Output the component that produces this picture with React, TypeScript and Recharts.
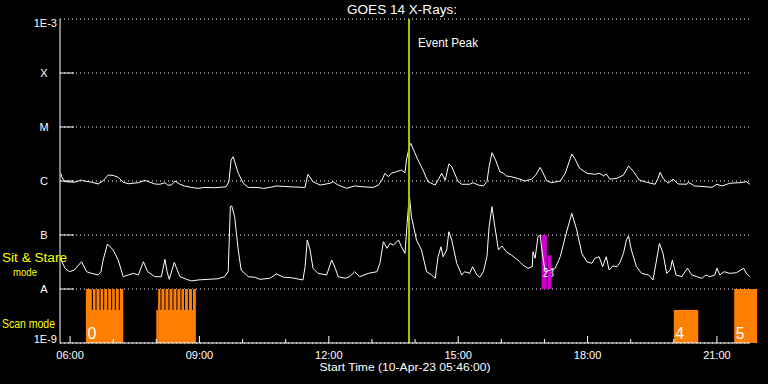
import React from 'react';
import { ComposedChart, Line, XAxis, YAxis, CartesianGrid, ReferenceArea, ReferenceLine } from 'recharts';

// times are minutes after the start time (10-Apr-23 05:46:00)
const START = 5 * 60 + 46;
const SPAN = 960;

const hourTicks = [14, 74, 134, 194, 254, 314, 374, 434, 494, 554, 614, 674, 734, 794, 854, 914];
const yTicks = [1e-9, 1e-8, 1e-7, 1e-6, 1e-5, 1e-4, 1e-3];
const yLabels = ['1E-9', 'A', 'B', 'C', 'M', 'X', '1E-3'];

// long channel (1-8 A), W/m^2
const longChannel: [number, number][] = [
  [1, 1.39e-6], [3, 1.14e-6], [7, 0.97e-6], [20, 0.95e-6], [30, 1.04e-6], [34, 1.0e-6], [44, 0.95e-6],
  [53, 0.88e-6], [60, 1.01e-6], [67, 1.29e-6], [74, 1.27e-6], [81, 1.17e-6], [88, 0.95e-6], [95, 0.89e-6],
  [109, 0.93e-6], [118, 1.03e-6], [125, 0.95e-6], [132, 0.88e-6], [139, 0.87e-6], [146, 0.93e-6], [150, 0.84e-6],
  [155, 0.84e-6], [160, 1.0e-6], [167, 0.87e-6], [173, 0.81e-6], [183, 0.76e-6], [192, 0.73e-6], [201, 0.76e-6],
  [215, 0.75e-6], [231, 0.78e-6], [235, 0.97e-6], [238, 2.45e-6], [241, 2.82e-6], [243, 2.28e-6], [248, 1.39e-6],
  [255, 0.91e-6], [262, 0.76e-6], [275, 0.76e-6], [283, 0.73e-6], [292, 0.76e-6], [301, 0.81e-6], [320, 0.78e-6],
  [341, 0.76e-6], [343, 1.04e-6], [345, 1.33e-6], [352, 0.97e-6], [362, 0.84e-6], [376, 0.91e-6], [380, 0.97e-6],
  [387, 0.84e-6], [399, 0.73e-6], [410, 0.81e-6], [422, 0.78e-6], [436, 0.76e-6], [443, 0.84e-6], [448, 1.04e-6],
  [452, 1.39e-6], [457, 1.2e-6], [461, 1.39e-6], [468, 1.49e-6], [475, 1.6e-6], [480, 1.42e-6], [482, 2.45e-6],
  [486, 4.32e-6], [488, 4.99e-6], [492, 3.75e-6], [498, 2.45e-6], [505, 1.6e-6], [512, 0.97e-6], [522, 0.84e-6],
  [526, 1.04e-6], [531, 1.39e-6], [536, 1.04e-6], [541, 2.07e-6], [545, 1.84e-6], [554, 0.97e-6], [559, 0.87e-6],
  [570, 0.87e-6], [575, 0.93e-6], [582, 0.84e-6], [589, 0.81e-6], [594, 0.97e-6], [597, 1.84e-6], [601, 3.34e-6],
  [606, 2.45e-6], [612, 1.49e-6], [617, 1.39e-6], [621, 1.24e-6], [628, 1.2e-6], [640, 1.08e-6], [647, 1.0e-6],
  [656, 1.08e-6], [662, 1.29e-6], [668, 1.79e-6], [672, 1.42e-6], [677, 1.01e-6], [684, 0.93e-6], [696, 1.0e-6],
  [703, 1.39e-6], [712, 3.16e-6], [716, 2.63e-6], [723, 1.72e-6], [733, 1.39e-6], [744, 1.33e-6], [751, 1.39e-6],
  [756, 1.24e-6], [760, 1.35e-6], [765, 1.08e-6], [775, 1.12e-6], [784, 1.29e-6], [791, 1.9e-6], [798, 1.49e-6],
  [806, 1.04e-6], [816, 0.95e-6], [828, 0.87e-6], [832, 1.12e-6], [835, 1.45e-6], [839, 1.12e-6], [846, 0.91e-6],
  [853, 1.08e-6], [860, 0.88e-6], [872, 0.87e-6], [874, 0.95e-6], [883, 0.81e-6], [900, 0.78e-6], [907, 0.76e-6],
  [914, 0.87e-6], [921, 0.81e-6], [932, 0.91e-6], [946, 0.93e-6], [955, 0.97e-6], [960, 0.87e-6],
];

// short channel (0.5-4 A), W/m^2
const shortChannel: [number, number][] = [
  [1, 3.59e-8], [7, 2.42e-8], [13, 2.09e-8], [20, 2.25e-8], [30, 3.2e-8], [37, 2.09e-8], [44, 1.95e-8],
  [53, 1.82e-8], [57, 2.09e-8], [60, 3.44e-8], [66, 6.81e-8], [74, 5.27e-8], [81, 3.44e-8], [88, 1.69e-8],
  [95, 1.82e-8], [102, 1.95e-8], [109, 1.82e-8], [116, 3.2e-8], [122, 2.09e-8], [132, 1.69e-8], [141, 1.69e-8],
  [146, 3.55e-8], [149, 2.09e-8], [152, 1.51e-8], [159, 3.1e-8], [167, 1.69e-8], [176, 1.51e-8], [183, 1.41e-8],
  [192, 1.47e-8], [206, 1.51e-8], [220, 1.55e-8], [229, 1.69e-8], [234, 2.09e-8], [237, 3.34e-7], [239, 3.44e-7],
  [243, 2.18e-7], [248, 5.27e-8], [252, 2.25e-8], [262, 1.69e-8], [271, 1.65e-8], [278, 1.51e-8], [292, 1.58e-8],
  [301, 1.9e-8], [311, 1.65e-8], [322, 1.62e-8], [338, 1.47e-8], [341, 2.59e-8], [344, 8.08e-8], [348, 5.27e-8],
  [352, 2.42e-8], [359, 1.95e-8], [371, 1.82e-8], [378, 3.44e-8], [383, 2.42e-8], [387, 1.69e-8], [397, 1.58e-8],
  [403, 1.69e-8], [410, 2.09e-8], [417, 1.69e-8], [429, 1.95e-8], [441, 2.09e-8], [445, 2.99e-8], [450, 7.5e-8],
  [455, 5.67e-8], [459, 7.0e-8], [464, 6.53e-8], [471, 8.08e-8], [475, 6.06e-8], [480, 4.58e-8], [483, 1.65e-7],
  [486, 5.5e-7], [489, 2.18e-7], [496, 8.08e-8], [503, 5.27e-8], [510, 2.09e-8], [517, 1.82e-8], [522, 1.58e-8],
  [526, 3.96e-8], [530, 6.06e-8], [533, 3.96e-8], [538, 5.27e-8], [541, 1.15e-7], [545, 8.08e-8], [552, 2.99e-8],
  [559, 1.82e-8], [563, 2.09e-8], [570, 1.95e-8], [574, 2.59e-8], [580, 1.82e-8], [584, 1.65e-8], [589, 2.09e-8],
  [594, 3.96e-8], [597, 1.42e-7], [601, 3.34e-7], [605, 1.42e-7], [610, 5.27e-8], [615, 6.25e-8], [621, 4.9e-8],
  [628, 4.26e-8], [637, 3.44e-8], [644, 2.78e-8], [651, 2.42e-8], [657, 2.59e-8], [658, 4.9e-8], [661, 3.7e-8],
  [665, 9.3e-8], [668, 1.0e-7], [671, 4.58e-8], [675, 2.09e-8], [683, 2.25e-8], [689, 2.42e-8], [696, 3.96e-8],
  [703, 9.3e-8], [712, 2.52e-7], [719, 1.24e-7], [726, 4.58e-8], [733, 3.2e-8], [740, 2.99e-8], [744, 3.7e-8],
  [750, 3.96e-8], [755, 2.59e-8], [760, 3.96e-8], [764, 2.25e-8], [769, 2.67e-8], [775, 2.59e-8], [779, 3.07e-8],
  [784, 4.58e-8], [788, 8.08e-8], [791, 9.58e-8], [795, 5.27e-8], [802, 2.59e-8], [809, 1.95e-8], [819, 1.82e-8],
  [825, 1.47e-8], [830, 3.44e-8], [834, 7.0e-8], [839, 4.58e-8], [844, 1.95e-8], [849, 2.25e-8], [852, 3.44e-8],
  [857, 1.82e-8], [865, 1.69e-8], [873, 2.42e-8], [879, 1.82e-8], [886, 1.69e-8], [893, 1.58e-8], [899, 1.82e-8],
  [904, 1.69e-8], [911, 1.82e-8], [914, 2.42e-8], [918, 1.82e-8], [924, 2.09e-8], [932, 1.95e-8], [941, 2.0e-8],
  [951, 2.42e-8], [955, 1.95e-8], [960, 1.69e-8],
];

// observing modes
const scanBlocks = [
  { label: '0', start: 36, end: 88, top: 1e-8 },
  { label: '1', start: 134, end: 136.5, top: 4.1e-9 },
  { label: '', start: 136.5, end: 189, top: 1e-8 },
  { label: '4', start: 854, end: 888, top: 4.1e-9 },
  { label: '5', start: 938, end: 970, top: 1e-8 },
];
const scanGaps = [45, 50.1, 55.7, 60.8, 66.4, 71.9, 76.9, 82.5, 140.5, 146, 151.6, 157.2, 162.7, 168.3, 173.2, 178.7, 184.3];
const stareBlocks = [
  { label: '2', start: 670, end: 677.4, top: 1e-7 },
  { label: '3', start: 678.5, end: 684, top: 4.2e-8 },
];
const eventPeak = 485.6;

const FONT = '"Liberation Sans", Arial, sans-serif';
const ORANGE = '#ff8000';
const MAGENTA = '#cc00cc';
const GREEN = '#9ccc00';

const fmtTime = (m: number) => {
  const t = START + m;
  const h = Math.floor(t / 60) % 24;
  const mm = t % 60;
  return `${String(h).padStart(2, '0')}:${String(mm).padStart(2, '0')}`;
};

const isMajor = (v: number) => (v - 14) % 180 === 0;

const BottomTick = (props: any) => {
  const { x, y, payload } = props;
  const major = isMajor(payload.value);
  return (
    <g>
      <line x1={x} x2={x} y1={y} y2={y - (major ? 7 : 4)} stroke="#fff" />
      {major && (
        <text x={x} y={y + 16} textAnchor="middle" fill="#fff" fontSize={11} fontFamily={FONT}>
          {fmtTime(payload.value)}
        </text>
      )}
    </g>
  );
};

const TopTick = (props: any) => {
  const { x, y, payload } = props;
  return <line x1={x} x2={x} y1={y} y2={y + (isMajor(payload.value) ? 7 : 4)} stroke="#fff" />;
};

const tickIndex = (v: number) => yTicks.findIndex((t) => Math.abs(Math.log10(t) - Math.log10(v)) < 1e-6);

const LeftTick = (props: any) => {
  const { x, y, payload } = props;
  const i = tickIndex(payload.value);
  const inner = i > 0 && i < yTicks.length - 1;
  return (
    <g>
      {inner && <line x1={x} x2={x + 14} y1={y} y2={y} stroke="#fff" />}
      <text
        x={inner ? x - 16 : x - 3}
        y={i === 0 ? y : inner ? y + 4 : y + 8}
        textAnchor={inner ? 'middle' : 'end'}
        fill="#fff"
        fontSize={11}
        fontFamily={FONT}
      >
        {yLabels[i]}
      </text>
    </g>
  );
};

const RightTick = (props: any) => {
  const { x, y, payload } = props;
  const i = tickIndex(payload.value);
  if (i <= 0 || i >= yTicks.length - 1) return <g />;
  return <line x1={x - 14} x2={x} y1={y} y2={y} stroke="#fff" />;
};

const areaLabel = (text: string, size: number, dx: number, dy: number, len?: number) => (props: any) => {
  const { x, y, height } = props.viewBox;
  return (
    <text
      x={x + dx}
      y={y + height - dy}
      fill="#fff"
      fontSize={size}
      fontFamily={FONT}
      textLength={len}
      lengthAdjust={len ? 'spacingAndGlyphs' : undefined}
    >
      {text}
    </text>
  );
};

const peakLabel = (props: any) => {
  const { x, y } = props.viewBox;
  return (
    <text x={x + 9} y={y + 28} fill="#fff" fontSize={12} fontFamily={FONT} textLength={60} lengthAdjust="spacingAndGlyphs">
      Event Peak
    </text>
  );
};

const longData = longChannel.map(([t, flux]) => ({ t, flux }));
const shortData = shortChannel.map(([t, flux]) => ({ t, flux }));
// the two stare labels are printed on top of each other in the original
const stareLabel = stareBlocks.map((b) => b.label).join('');

export default function App() {
  return (
    <div style={{ position: 'absolute', left: 0, top: 0, width: 768, height: 384, background: '#000' }}>
      <ComposedChart width={768} height={384} margin={{ top: 19, right: 18, bottom: 0, left: 0 }}>
        <CartesianGrid vertical={false} stroke="#fff" strokeDasharray="1 3" />
        <XAxis
          dataKey="t"
          type="number"
          domain={[0, SPAN]}
          ticks={hourTicks}
          interval={0}
          height={41}
          tickSize={0}
          tickMargin={0}
          tick={<BottomTick />}
          axisLine={{ stroke: '#fff' }}
          allowDataOverflow
        />
        <XAxis
          xAxisId="top"
          orientation="top"
          dataKey="t"
          type="number"
          domain={[0, SPAN]}
          ticks={hourTicks}
          interval={0}
          height={0}
          tickSize={0}
          tickMargin={0}
          tick={<TopTick />}
          axisLine={{ stroke: '#fff' }}
          allowDataOverflow
        />
        <YAxis
          scale="log"
          type="number"
          domain={[1e-9, 1e-3]}
          ticks={yTicks}
          interval={0}
          width={60}
          tickSize={0}
          tickMargin={0}
          tick={<LeftTick />}
          axisLine={{ stroke: '#fff' }}
          allowDataOverflow
        />
        <YAxis
          yAxisId="right"
          orientation="right"
          scale="log"
          type="number"
          domain={[1e-9, 1e-3]}
          ticks={yTicks}
          interval={0}
          width={0}
          tickSize={0}
          tickMargin={0}
          tick={<RightTick />}
          axisLine={{ stroke: '#fff' }}
          allowDataOverflow
        />
        {scanBlocks.map((b, i) => (
          <ReferenceArea
            key={'scan' + i}
            x1={b.start}
            x2={b.end}
            y1={1e-9}
            y2={b.top}
            fill={ORANGE}
            fillOpacity={1}
            stroke="none"
            ifOverflow="visible"
            label={b.label ? areaLabel(b.label, 16, 1.5, 4) : undefined}
          />
        ))}
        {scanGaps.map((t) => (
          <ReferenceLine
            key={'gap' + t}
            segment={[{ x: t, y: 1e-8 }, { x: t, y: 4.1e-9 }]}
            stroke="#000"
            strokeWidth={1}
          />
        ))}
        {stareBlocks.map((b, i) => (
          <ReferenceArea
            key={'stare' + i}
            x1={b.start}
            x2={b.end}
            y1={1e-8}
            y2={b.top}
            fill={MAGENTA}
            fillOpacity={1}
            stroke="none"
            ifOverflow="visible"
            label={i === 0 ? areaLabel(stareLabel, 13, 1.5, 12, 11) : undefined}
          />
        ))}
        <Line data={longData} dataKey="flux" stroke="#fff" strokeWidth={1} dot={false} isAnimationActive={false} />
        <Line data={shortData} dataKey="flux" stroke="#fff" strokeWidth={1} dot={false} isAnimationActive={false} />
        <ReferenceLine x={eventPeak} stroke={GREEN} strokeWidth={2} label={peakLabel} />
      </ComposedChart>
      <svg width={768} height={384} style={{ position: 'absolute', left: 0, top: 0, pointerEvents: 'none' }}>
        <text x={402} y={13.5} textAnchor="middle" fill="#fff" fontSize={12} fontFamily={FONT} textLength={110} lengthAdjust="spacingAndGlyphs">
          GOES 14 X-Rays:
        </text>
        <text x={405} y={371} textAnchor="middle" fill="#fff" fontSize={11} fontFamily={FONT} textLength={171} lengthAdjust="spacingAndGlyphs">
          Start Time (10-Apr-23 05:46:00)
        </text>
        <text x={2} y={262} fill="#ffff00" fontSize={12} fontFamily={FONT} textLength={65} lengthAdjust="spacingAndGlyphs">
          Sit &amp; Stare
        </text>
        <text x={13} y={276} fill="#ffff00" fontSize={11} fontFamily={FONT} textLength={24} lengthAdjust="spacingAndGlyphs">
          mode
        </text>
        <text x={2} y={328} fill="#ffff00" fontSize={12} fontFamily={FONT} textLength={53} lengthAdjust="spacingAndGlyphs">
          Scan mode
        </text>
      </svg>
    </div>
  );
}
